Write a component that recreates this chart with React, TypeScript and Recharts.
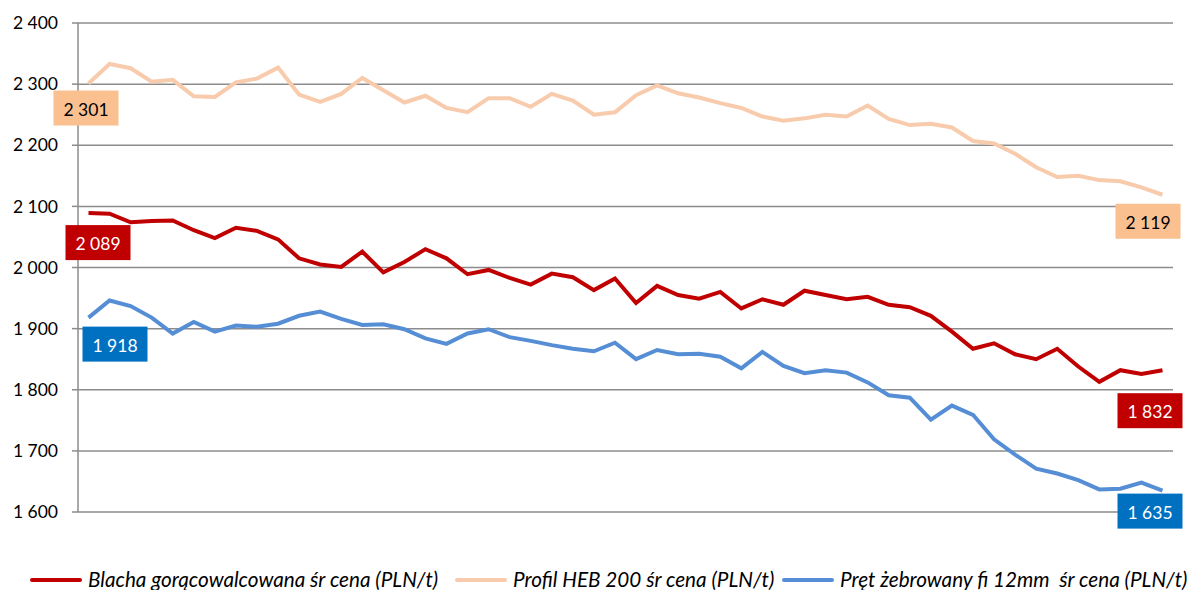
import React from 'react';
import { LineChart, Line, XAxis, YAxis, CartesianGrid, Legend } from 'recharts';

const periods = [
  '1','2','3','4','5','6','7','8','9','10','11','12','13','14','15','16','17','18','19','20','21','22','23','24','25','26',
  '27','28','29','30','31','32','33','34','35','36','37','38','39','40','41','42','43','44','45','46','47','48','49','50','51','52',
];

const blacha = [
  2089, 2088, 2074, 2076, 2077, 2061, 2048, 2065, 2060, 2046, 2015, 2005, 2001, 2026, 1992, 2009,
  2030, 2015, 1989, 1996, 1983, 1972, 1990, 1984, 1963, 1982, 1942, 1970, 1955, 1949, 1960, 1933,
  1948, 1939, 1962, 1955, 1948, 1952, 1939, 1935, 1921, 1895, 1867, 1876, 1858, 1850, 1867, 1838,
  1813, 1832, 1826, 1832,
];

const profil = [
  2301, 2333, 2326, 2304, 2307, 2280, 2279, 2303, 2309, 2327, 2283, 2271, 2284, 2310, 2290, 2270,
  2281, 2261, 2254, 2277, 2277, 2263, 2284, 2273, 2250, 2254, 2282, 2298, 2285, 2278, 2269, 2261,
  2247, 2240, 2244, 2250, 2247, 2265, 2243, 2233, 2235, 2229, 2207, 2203, 2186, 2164, 2148, 2150,
  2143, 2141, 2131, 2119,
];

const pret = [
  1918, 1946, 1937, 1918, 1892, 1911, 1895, 1905, 1903, 1908, 1921, 1928, 1916, 1906, 1907, 1899,
  1884, 1875, 1892, 1899, 1886, 1880, 1873, 1867, 1863, 1877, 1850, 1865, 1858, 1859, 1854, 1835,
  1862, 1839, 1827, 1832, 1828, 1812, 1791, 1787, 1751, 1774, 1759, 1719, 1694, 1671, 1663, 1652,
  1637, 1638, 1648, 1635,
];

const yTicks = [1600, 1700, 1800, 1900, 2000, 2100, 2200, 2300, 2400];

const seriesNames = {
  blacha: 'Blacha gorącowalcowana śr cena (PLN/t)',
  profil: 'Profil HEB 200 śr cena (PLN/t)',
  pret: 'Pręt żebrowany fi 12mm  śr cena (PLN/t)',
};

const data = periods.map((p, i) => ({
  period: p,
  blacha: blacha[i],
  profil: profil[i],
  pret: pret[i],
}));

const FONT = 'Lato, "Open Sans", sans-serif';

const fmt = (v: number) => {
  const th = Math.floor(v / 1000);
  const rest = String(v % 1000).padStart(3, '0');
  return th > 0 ? `${th} ${rest}` : String(v);
};

type LabelStyle = {
  fill: string;
  text: string;
  first: [number, number];
  last: [number, number];
};

const labelStyles: Record<string, LabelStyle> = {
  blacha: { fill: '#C00000', text: '#FFFFFF', first: [-23, 12], last: [-45, 23] },
  profil: { fill: '#FAC090', text: '#000000', first: [-35, 7], last: [-47, 9] },
  pret: { fill: '#0070C0', text: '#FFFFFF', first: [-6, 9], last: [-45, 3] },
};

const makeDot = (key: string) => (props: any) => {
  const { cx, cy, index, value } = props;
  const last = data.length - 1;
  if (index !== 0 && index !== last) return <g key={`d-${key}-${index}`} />;
  const st = labelStyles[key];
  const [dx, dy] = index === 0 ? st.first : st.last;
  const w = 65;
  const h = 35;
  const x = cx + dx;
  const y = cy + dy;
  const v = Array.isArray(value) ? value[1] : value;
  return (
    <g key={`d-${key}-${index}`}>
      <rect x={x} y={y} width={w} height={h} fill={st.fill} />
      <text
        x={x + w / 2}
        y={y + h / 2 + 1}
        textAnchor="middle"
        dominantBaseline="central"
        fontFamily={FONT}
        fontSize={17.5}
        fill={st.text}
      >
        {fmt(v)}
      </text>
    </g>
  );
};

const legendItems = [
  { key: 'blacha', color: '#C00000', left: 30 },
  { key: 'profil', color: '#F8CBAD', left: 455 },
  { key: 'pret', color: '#558ED5', left: 782 },
];

const renderLegend = () => (
  <div style={{ position: 'relative', width: 1192, height: 40 }}>
    {legendItems.map((it) => (
      <div
        key={it.key}
        style={{
          position: 'absolute',
          left: it.left,
          top: 16,
          height: 26,
          display: 'flex',
          alignItems: 'center',
          whiteSpace: 'pre',
        }}
      >
        <span
          style={{
            display: 'inline-block',
            width: 52,
            height: 4,
            borderRadius: 2,
            background: it.color,
            marginRight: 6,
            marginTop: 2,
          }}
        />
        <span
          style={{
            fontFamily: FONT,
            fontStyle: 'italic',
            fontSize: 20.7,
            lineHeight: '26px',
            color: '#000',
            whiteSpace: 'pre',
          }}
        >
          {(seriesNames as any)[it.key]}
        </span>
      </div>
    ))}
  </div>
);

export default function App() {
  return (
    <div style={{ position: 'absolute', left: 0, top: 0, width: 1192, height: 590, background: '#fff' }}>
      <LineChart
        width={1192}
        height={590}
        data={data}
        margin={{ top: 23, right: 19, left: 0, bottom: 38 }}
      >
        <CartesianGrid horizontal vertical={false} stroke="#8C8C8C" strokeWidth={1.5} />
        <XAxis dataKey="period" hide padding={{ left: 10.5, right: 10.5 }} />
        <YAxis
          width={78}
          domain={[1600, 2400]}
          ticks={yTicks}
          interval={0}
          tickFormatter={fmt}
          tickSize={6}
          tickMargin={14}
          axisLine={{ stroke: '#8C8C8C', strokeWidth: 1.5 }}
          tickLine={{ stroke: '#8C8C8C', strokeWidth: 1.5 }}
          tick={{ fill: '#000', fontSize: 17.5, fontFamily: FONT }}
        />
        <Legend verticalAlign="bottom" height={40} content={renderLegend} wrapperStyle={{ left: 0, bottom: 0, width: 1192 }} />
        <Line
          type="linear"
          dataKey="blacha"
          name={seriesNames.blacha}
          stroke="#C00000"
          strokeWidth={4}
          dot={makeDot('blacha')}
          activeDot={false}
          isAnimationActive={false}
        />
        <Line
          type="linear"
          dataKey="profil"
          name={seriesNames.profil}
          stroke="#F8CBAD"
          strokeWidth={4}
          dot={makeDot('profil')}
          activeDot={false}
          isAnimationActive={false}
        />
        <Line
          type="linear"
          dataKey="pret"
          name={seriesNames.pret}
          stroke="#558ED5"
          strokeWidth={4}
          dot={makeDot('pret')}
          activeDot={false}
          isAnimationActive={false}
        />
      </LineChart>
    </div>
  );
}
